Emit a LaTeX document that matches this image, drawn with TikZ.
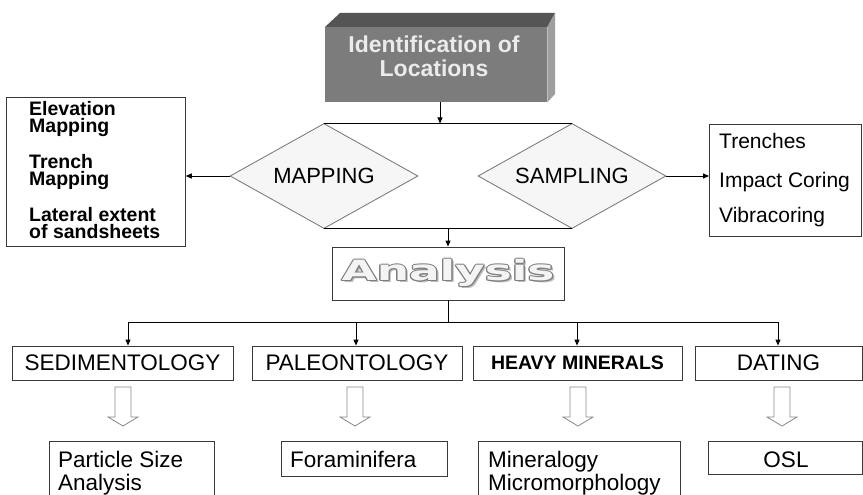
\documentclass[tikz,border=0pt]{standalone}
\usepackage{fontspec}
\setmainfont{Liberation Sans}
\newfontfamily\wideface{DejaVu Sans}
\usetikzlibrary{arrows.meta,shapes.geometric}

\definecolor{topface}{HTML}{555555}
\definecolor{frontface}{HTML}{7C7C7C}
\definecolor{sideface}{HTML}{9E9E9E}
\definecolor{idtext}{HTML}{EBEBEB}
\definecolor{edge}{HTML}{3A3A3A}
\definecolor{diamondfill}{HTML}{F6F6F6}
\definecolor{hollowedge}{HTML}{8A8A8A}
\definecolor{ringgray}{HTML}{7E7E7E}
\definecolor{shadegray}{HTML}{BDBDBD}
\definecolor{innerwhite}{HTML}{F4F4F4}

% light letters with a grey rim and a soft drop shadow
\newcommand\rimword[1]{%
  \rlap{\kern1.5pt\raisebox{-1.5pt}{\color{shadegray}#1}}%
  \rlap{\kern-0.8pt{\color{ringgray}#1}}%
  \rlap{\kern0.8pt{\color{ringgray}#1}}%
  \rlap{\raisebox{0.8pt}{\color{ringgray}#1}}%
  \rlap{\raisebox{-0.8pt}{\color{ringgray}#1}}%
  \rlap{\kern-0.6pt\raisebox{0.6pt}{\color{ringgray}#1}}%
  \rlap{\kern0.6pt\raisebox{0.6pt}{\color{ringgray}#1}}%
  \rlap{\kern-0.6pt\raisebox{-0.6pt}{\color{ringgray}#1}}%
  \rlap{\kern0.6pt\raisebox{-0.6pt}{\color{ringgray}#1}}%
  {\color{innerwhite}#1}}

\tikzset{
  box/.style={draw=edge, line width=0.8pt, fill=white, inner sep=0pt},
  catbox/.style={box, minimum height=34pt, font=\fontsize{22.5}{26}\selectfont},
  decision/.style={shape=diamond, draw=black!55, line width=0.8pt, fill=diamondfill,
    inner sep=0pt, minimum width=188pt, minimum height=105pt},
  decisionlabel/.style={inner sep=0pt, font=\fontsize{22}{26}\selectfont},
  boldline/.style={anchor=base west, inner sep=0pt, font=\bfseries\fontsize{19.5}{20}\selectfont},
  plainline/.style={anchor=base west, inner sep=0pt, font=\fontsize{21}{24}\selectfont},
  resline/.style={anchor=base west, inner sep=0pt, font=\fontsize{22.5}{26}\selectfont},
  link/.style={draw=black, line width=0.9pt},
  arrowlink/.style={link, -{Triangle[length=6pt,width=5pt]}},
  hollowdown/.pic={
    \draw[hollowedge, fill=white, line width=0.8pt]
      (-8,0) -- (8,0) -- (8,30) -- (15,30) -- (0,39) -- (-15,30) -- (-8,30) -- cycle;
  }
}

\begin{document}
\begin{tikzpicture}[x=1pt, y=-1pt]
\clip (0,0) rectangle (863,495);
\fill[white] (0,0) rectangle (863,495);

% three-dimensional title block
\node[fill=frontface, minimum width=222pt, minimum height=75pt, inner sep=0pt,
      anchor=north west] (ident) at (325,27) {};
\fill[topface] (ident.north west) -- (340,13) -- (555,13) -- (ident.north east) -- cycle;
\fill[sideface] (ident.north east) -- (555,13) -- (555,94) -- (ident.south east) -- cycle;
\node[text=idtext, align=center, inner sep=0pt,
      font=\bfseries\fontsize{23}{24}\selectfont] (identlabel) at (434,56.7)
      {Identification of\\Locations};

% the two decisions
\node[decision] (mapping) at (324,176) {};
\node[decisionlabel] (mappinglabel) at (mapping.center) {MAPPING};
\node[decision] (sampling) at (572,176) {};
\node[decisionlabel] (samplinglabel) at (sampling.center) {SAMPLING};
\coordinate (topjoin) at (440,123.5);
\coordinate (lowjoin) at (448,228.5);
\draw[link] (mapping.north) -- (sampling.north);
\draw[link] (mapping.south) -- (sampling.south);
\draw[arrowlink] (ident.south -| topjoin) -- (topjoin);

% mapping outputs
\node[box, minimum width=179pt, minimum height=149pt, anchor=north west] (mapbox) at (6,97) {};
\node[boldline] (m1) at (29,116) {Elevation};
\node[boldline] (m2) at (29,132.5) {Mapping};
\node[boldline] (m3) at (29,168) {Trench};
\node[boldline] (m4) at (29,185) {Mapping};
\node[boldline] (m5) at (29,221) {Lateral extent};
\node[boldline] (m6) at (29,238) {of sandsheets};
\draw[arrowlink] (mapping.west) -- (mapping.west -| mapbox.east);

% sampling outputs
\node[box, minimum width=152pt, minimum height=112pt, anchor=north west] (sampbox) at (709,124) {};
\node[plainline] (s1) at (719,148) {Trenches};
\node[plainline] (s2) at (719,187) {Impact Coring};
\node[plainline] (s3) at (719,222) {Vibracoring};
\draw[arrowlink] (sampling.east) -- (sampling.east -| sampbox.west);

% analysis
\node[box, minimum width=232pt, minimum height=53pt] (analysis) at (448,273.5) {};
\node[inner sep=0pt, font=\wideface\bfseries\fontsize{28}{30}\selectfont] (analysislabel)
  at (448,273.5) {\scalebox{1.62}[1]{\rimword{Analysis}}};
\draw[arrowlink] (lowjoin) -- (lowjoin |- analysis.north);

% branches
\node[catbox, minimum width=221pt] (sed) at (122.5,363) {SEDIMENTOLOGY};
\node[catbox, minimum width=210pt] (paleo) at (357,363) {PALEONTOLOGY};
\node[catbox, minimum width=209pt, font=\bfseries\fontsize{19.5}{24}\selectfont] (heavy) at (577.5,363) {HEAVY MINERALS};
\node[catbox, minimum width=167pt] (dating) at (778.5,363) {DATING};

\coordinate (bus) at (448,322);
\coordinate (b1) at (128,322);
\coordinate (b2) at (356,322);
\coordinate (b3) at (577,322);
\coordinate (b4) at (778,322);
\draw[link] (analysis.south) -- (bus);
\draw[link] (b1) -- (b4);
\draw[arrowlink] (b1) -- (b1 |- sed.north);
\draw[arrowlink] (b2) -- (b2 |- paleo.north);
\draw[arrowlink] (b3) -- (b3 |- heavy.north);
\draw[arrowlink] (b4) -- (b4 |- dating.north);

% hollow arrows
\pic at (123,387) {hollowdown};
\pic at (355,387) {hollowdown};
\pic at (578,387) {hollowdown};
\pic at (782,387) {hollowdown};

% results
\node[box, minimum width=165pt, minimum height=70pt, anchor=north west] (psa) at (48.5,441) {};
\node[resline] (r1) at (58,467) {Particle Size};
\node[resline] (r2) at (58,490) {Analysis};
\node[box, minimum width=166pt, minimum height=35pt, anchor=north west] (fora) at (281,441) {};
\node[resline] (r3) at (290,467) {Foraminifera};
\node[box, minimum width=202pt, minimum height=70pt, anchor=north west] (mine) at (478,441) {};
\node[resline] (r4) at (488,467) {Mineralogy};
\node[resline] (r5) at (488,490) {Micromorphology};
\node[box, minimum width=154pt, minimum height=33pt, anchor=north west] (osl) at (708,441) {};
\node[anchor=base, inner sep=0pt, font=\fontsize{22.5}{26}\selectfont] (r6) at (786,467) {OSL};
\end{tikzpicture}
\end{document}
